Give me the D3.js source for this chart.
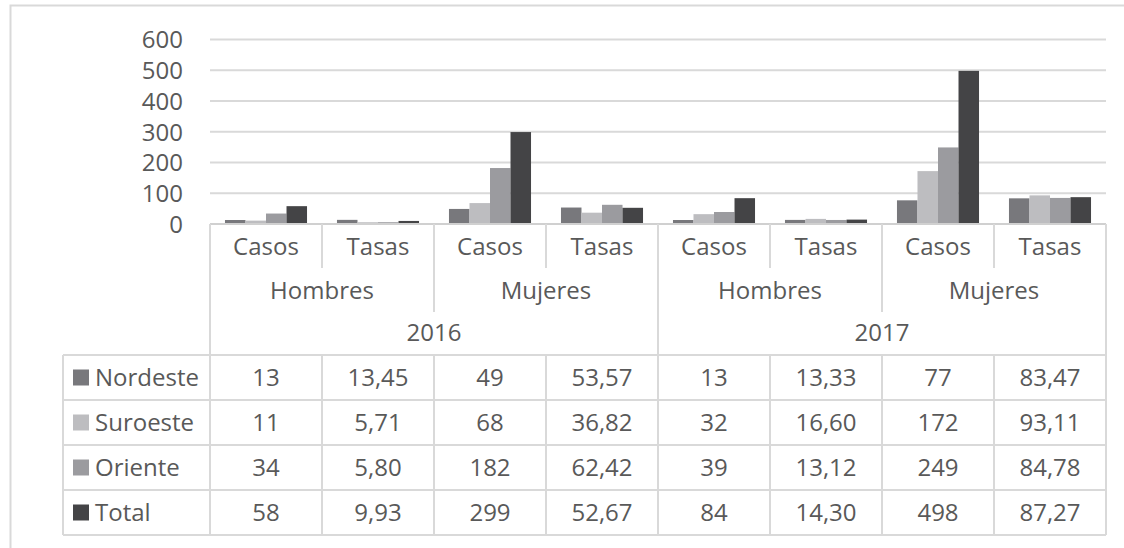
<!DOCTYPE html>
<html><head><meta charset="utf-8">
<script src="https://cdn.jsdelivr.net/npm/d3@7"></script>
<style>
html,body{margin:0;padding:0;background:#fff;}
svg text{font-family:"Open Sans",sans-serif;fill:#595959;}
</style></head>
<body>
<svg id="c" width="1124" height="548"></svg>
<script>
const categories = ["Casos","Tasas","Casos","Tasas","Casos","Tasas","Casos","Tasas"];
const sexLabels = ["Hombres","Mujeres","Hombres","Mujeres"];
const yearLabels = ["2016","2017"];
const seriesNames = ["Nordeste","Suroeste","Oriente","Total"];
const nordeste = [13, 13.45, 49, 53.57, 13, 13.33, 77, 83.47];
const suroeste = [11, 5.71, 68, 36.82, 32, 16.60, 172, 93.11];
const oriente  = [34, 5.80, 182, 62.42, 39, 13.12, 249, 84.78];
const total    = [58, 9.93, 299, 52.67, 84, 14.30, 498, 87.27];
const cellText = [
  ["13","13,45","49","53,57","13","13,33","77","83,47"],
  ["11","5,71","68","36,82","32","16,60","172","93,11"],
  ["34","5,80","182","62,42","39","13,12","249","84,78"],
  ["58","9,93","299","52,67","84","14,30","498","87,27"]
];
const yTicks = [0,100,200,300,400,500,600];
const colors = ["#78787c","#bdbdc0","#9b9b9f","#444446"];

const seriesValues = [nordeste, suroeste, oriente, total];
const svg = d3.select("#c");
const lineCol = "#d9d9d9";
const L = 210, R = 1106, y0px = 224, yTop = 39.5;
const tableTop = 355, tableBot = 535, legendLeft = 63;

// outer frame
svg.append("path").attr("d", `M10.5,548 V5.5 H1124`).attr("fill","none").attr("stroke","#d9d9d9").attr("stroke-width",2);

const y = d3.scaleLinear().domain([0,600]).range([y0px, yTop]);
const idx = d3.range(categories.length);
const x = d3.scaleBand().domain(idx).range([L,R]).padding(0);
const xs = d3.scaleBand().domain(d3.range(4)).range([0, x.bandwidth()]).paddingInner(0).paddingOuter(0.73);

// gridlines
svg.append("g").selectAll("line").data(yTicks.filter(d=>d>0)).join("line")
  .attr("x1",L).attr("x2",R).attr("y1",d=>y(d)).attr("y2",d=>y(d))
  .attr("stroke",lineCol).attr("stroke-width",2);

const fs = "24px";
// y axis labels
const ya = svg.append("g").attr("transform",`translate(${L},0)`)
  .call(d3.axisLeft(y).tickValues(yTicks).tickSize(0).tickPadding(27).tickFormat(d3.format("d")));
ya.select(".domain").remove();
ya.selectAll("text").style("font-size",fs).attr("fill","#595959").attr("font-family","Open Sans").attr("dy","0.35em");

// bars
const bars = [];
seriesValues.forEach((vals,s)=>vals.forEach((v,i)=>bars.push({s,i,v})));
svg.append("g").selectAll("rect").data(bars).join("rect")
  .attr("x",d=>x(d.i)+xs(d.s)).attr("width",xs.bandwidth())
  .attr("y",d=>y(d.v)).attr("height",d=>y(0)-y(d.v))
  .attr("fill",d=>colors[d.s]);

// axis baseline
svg.append("line").attr("x1",L).attr("x2",R).attr("y1",y0px).attr("y2",y0px).attr("stroke","#d0d0d0").attr("stroke-width",2);

// category labels
svg.append("g").selectAll("text").data(idx).join("text")
  .attr("x",i=>x(i)+x.bandwidth()/2).attr("y",247).attr("dy","0.35em")
  .attr("text-anchor","middle").style("font-size",fs).text(i=>categories[i]);
svg.append("g").selectAll("text").data(d3.range(4)).join("text")
  .attr("x",j=>x(2*j)+x.bandwidth()).attr("y",291).attr("dy","0.35em")
  .attr("text-anchor","middle").style("font-size",fs).text(j=>sexLabels[j]);
svg.append("g").selectAll("text").data(d3.range(2)).join("text")
  .attr("x",k=>x(4*k)+2*x.bandwidth()).attr("y",333).attr("dy","0.35em")
  .attr("text-anchor","middle").style("font-size",fs).text(k=>yearLabels[k]);

// category divider lines
const dividers = [];
idx.forEach(i=>{ if(i===0) return;
  let bottom = 268;
  if(i%2===0) bottom = 312;
  if(i%4===0) bottom = tableBot;
  dividers.push({x:x(i),b:bottom});
});
dividers.push({x:L,b:tableBot},{x:R,b:tableBot});
svg.append("g").selectAll("line").data(dividers).join("line")
  .attr("x1",d=>d.x).attr("x2",d=>d.x).attr("y1",y0px).attr("y2",d=>d.b)
  .attr("stroke",lineCol).attr("stroke-width",2);

// data table
const ry = d3.scaleBand().domain(d3.range(4)).range([tableTop, tableBot]);
const tg = svg.append("g");
tg.selectAll("line.h").data(d3.range(5)).join("line").attr("class","h")
  .attr("x1",legendLeft).attr("x2",R)
  .attr("y1",r=>tableTop + r*ry.bandwidth()).attr("y2",r=>tableTop + r*ry.bandwidth())
  .attr("stroke",lineCol).attr("stroke-width",2);
tg.selectAll("line.v").data(idx.slice(1)).join("line").attr("class","v")
  .attr("x1",i=>x(i)).attr("x2",i=>x(i)).attr("y1",tableTop).attr("y2",tableBot)
  .attr("stroke",lineCol).attr("stroke-width",2);
tg.append("line").attr("x1",legendLeft).attr("x2",legendLeft).attr("y1",tableTop).attr("y2",tableBot)
  .attr("stroke",lineCol).attr("stroke-width",2);

// legend keys and cells
const rowsG = tg.selectAll("g.row").data(d3.range(4)).join("g").attr("class","row")
  .attr("transform",r=>`translate(0,${ry(r)+ry.bandwidth()/2})`);
rowsG.append("rect").attr("x",73).attr("y",-8).attr("width",16).attr("height",16).attr("fill",r=>colors[r]);
rowsG.append("text").attr("x",95).attr("dy","0.35em").style("font-size",fs).text(r=>seriesNames[r]);
rowsG.selectAll("text.cell").data(r=>cellText[r].map((t,i)=>({t,i}))).join("text").attr("class","cell")
  .attr("x",d=>x(d.i)+x.bandwidth()/2).attr("dy","0.35em").attr("text-anchor","middle")
  .style("font-size",fs).text(d=>d.t);
</script>
</body></html>
